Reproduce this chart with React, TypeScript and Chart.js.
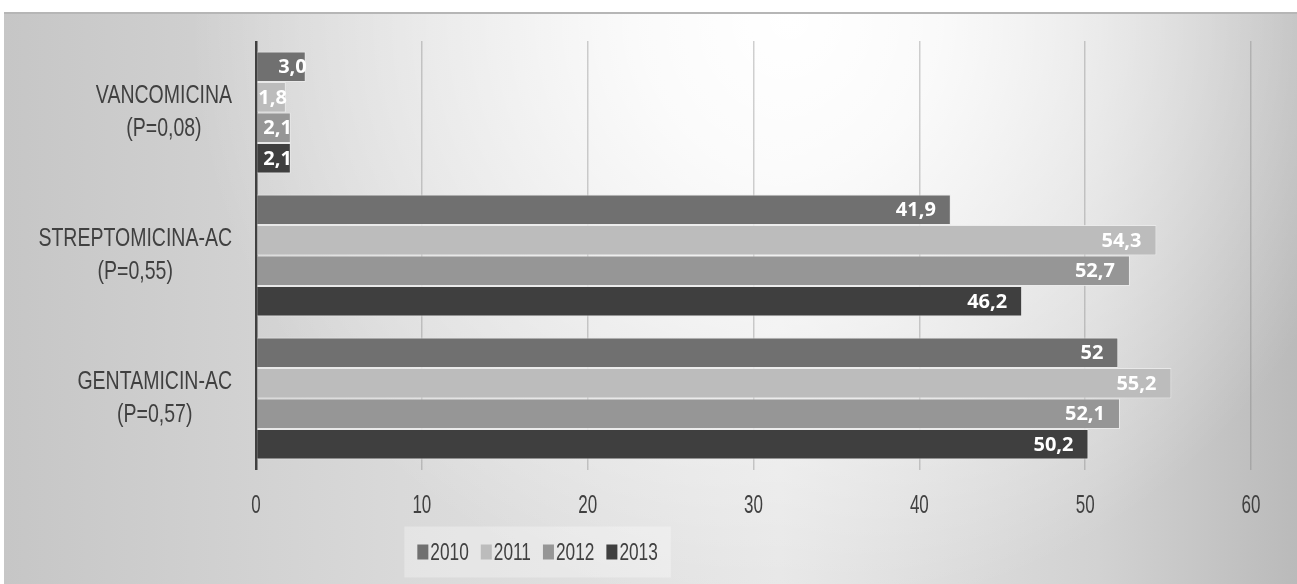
import React, { useEffect, useRef } from "react";
import { Chart, registerables } from "chart.js";

Chart.register(...registerables);

// ---- data ----
const categories: string[][] = [
  ["VANCOMICINA", "(P=0,08)"],
  ["STREPTOMICINA-AC", "(P=0,55)"],
  ["GENTAMICIN-AC", "(P=0,57)"],
];
const seriesNames = ["2010", "2011", "2012", "2013"];
const values2010 = [3.0, 41.9, 52];
const values2011 = [1.8, 54.3, 55.2];
const values2012 = [2.1, 52.7, 52.1];
const values2013 = [2.1, 46.2, 50.2];
const labels2010 = ["3,0", "41,9", "52"];
const labels2011 = ["1,8", "54,3", "55,2"];
const labels2012 = ["2,1", "52,7", "52,1"];
const labels2013 = ["2,1", "46,2", "50,2"];
const xTickMin = 0;
const xTickMax = 60;
const xTickStep = 10;

const seriesValues = [values2010, values2011, values2012, values2013];
const seriesLabels = [labels2010, labels2011, labels2012, labels2013];
const seriesColors = ["#707070", "#bcbcbc", "#969696", "#3f3f3f"];

const SANS = "'Liberation Sans', Arial, sans-serif";
const BOLD = "'Open Sans', 'Liberation Sans', sans-serif";

function drawNarrow(ctx: CanvasRenderingContext2D, text: string, x: number, y: number, sx: number) {
  ctx.save();
  ctx.translate(x, y);
  ctx.scale(sx, 1);
  ctx.fillText(text, 0, 0);
  ctx.restore();
}

const backgroundPlugin = {
  id: "bgPlugin",
  beforeDraw(chart: any) {
    const { ctx, width, height } = chart;
    ctx.save();
    ctx.fillStyle = "#ffffff";
    ctx.fillRect(0, 0, width, height);
    const g = ctx.createLinearGradient(4, 0, width, 0);
    g.addColorStop(0, "#c6c6c6");
    g.addColorStop(0.306, "#d9d9d9");
    g.addColorStop(0.6, "#e6e6e6");
    g.addColorStop(0.847, "#d2d2d2");
    g.addColorStop(1, "#bababa");
    ctx.fillStyle = g;
    ctx.fillRect(4, 12, width - 4, height - 12);
    const r = ctx.createRadialGradient(790, 20, 0, 790, 20, 600);
    r.addColorStop(0, "rgba(255,255,255,1)");
    r.addColorStop(0.25, "rgba(255,255,255,0.85)");
    r.addColorStop(1, "rgba(255,255,255,0)");
    ctx.fillStyle = r;
    ctx.fillRect(4, 12, width - 4, height - 12);
    ctx.fillStyle = "#b6b6b6";
    ctx.fillRect(4, 12, width - 4, 2);
    ctx.restore();
  },
};

const valueLabelPlugin = {
  id: "valueLabels",
  afterDatasetsDraw(chart: any) {
    const { ctx } = chart;
    ctx.save();
    ctx.font = `bold 20px ${BOLD}`;
    ctx.fillStyle = "#ffffff";
    ctx.textAlign = "right";
    ctx.textBaseline = "middle";
    chart.data.datasets.forEach((_ds: any, i: number) => {
      const meta = chart.getDatasetMeta(i);
      meta.data.forEach((bar: any, j: number) => {
        const { x, y, base } = bar.getProps(["x", "y", "base"], true);
        const text = seriesLabels[i][j];
        const w = ctx.measureText(text).width;
        const len = x - base;
        const right = len < w + 20 ? x + 1 : x - 15;
        ctx.fillText(text, right, y + 1);
      });
    });
    ctx.restore();
  },
};

const axisTextPlugin = {
  id: "axisText",
  afterDraw(chart: any) {
    const { ctx } = chart;
    const xScale = chart.scales.x;
    const yScale = chart.scales.y;
    ctx.save();
    ctx.fillStyle = "#404040";
    ctx.textBaseline = "middle";
    // x tick labels
    ctx.font = `25px ${SANS}`;
    ctx.textAlign = "center";
    for (let v = xTickMin; v <= xTickMax; v += xTickStep) {
      drawNarrow(ctx, String(v), xScale.getPixelForValue(v), chart.chartArea.bottom + 36, 0.68);
    }
    // category labels
    ctx.font = `26px ${SANS}`;
    const sx = 0.75;
    const rightEdge = chart.chartArea.left - 24;
    const lineGap = 33;
    categories.forEach((lines, i) => {
      const cy = yScale.getPixelForValue(i);
      const maxW = Math.max(...lines.map((l) => ctx.measureText(l).width)) * sx;
      const cx = rightEdge - maxW / 2;
      const startY = cy - ((lines.length - 1) * lineGap) / 2;
      lines.forEach((l, k) => drawNarrow(ctx, l, cx, startY + k * lineGap, sx));
    });
    ctx.restore();
  },
};

const legendPlugin = {
  id: "customLegend",
  afterDraw(chart: any) {
    const { ctx } = chart;
    ctx.save();
    ctx.font = `24px ${SANS}`;
    const sx = 0.72;
    const markerW = 11;
    const markerH = 15;
    const markerGap = 2;
    const itemGap = 12;
    const widths = seriesNames.map((n) => ctx.measureText(n).width * sx);
    const total =
      widths.reduce((a, b) => a + b, 0) +
      seriesNames.length * (markerW + markerGap) +
      (seriesNames.length - 1) * itemGap;
    const cx = chart.chartArea.left + chart.chartArea.width * 0.283;
    const cy = 552;
    const boxW = total + 26;
    const boxH = 51;
    ctx.fillStyle = "rgba(255,255,255,0.3)";
    ctx.fillRect(cx - boxW / 2, cy - boxH / 2, boxW, boxH);
    let x = cx - total / 2;
    ctx.textBaseline = "middle";
    ctx.textAlign = "left";
    seriesNames.forEach((n, i) => {
      ctx.fillStyle = seriesColors[i];
      ctx.fillRect(x, cy - markerH / 2, markerW, markerH);
      x += markerW + markerGap;
      ctx.fillStyle = "#404040";
      drawNarrow(ctx, n, x, cy + 1, sx);
      x += widths[i] + itemGap;
    });
    ctx.restore();
  },
};

export default function App() {
  const canvasRef = useRef<HTMLCanvasElement | null>(null);

  useEffect(() => {
    if (!canvasRef.current) return;
    const chart = new Chart(canvasRef.current, {
      type: "bar",
      data: {
        labels: categories.map((c) => c.join(" ")),
        datasets: seriesNames.map((name, i) => ({
          label: name,
          data: seriesValues[i],
          backgroundColor: seriesColors[i],
          borderColor: "rgba(235,235,235,0.85)",
          borderWidth: 1,
          categoryPercentage: 0.853,
          barPercentage: 1,
        })),
      },
      options: {
        indexAxis: "y",
        animation: false,
        responsive: false,
        maintainAspectRatio: false,
        layout: { padding: { left: 256, right: 46, top: 41, bottom: 114 } },
        plugins: {
          legend: { display: false },
          tooltip: { enabled: false },
        },
        scales: {
          x: {
            type: "linear",
            min: xTickMin,
            max: xTickMax,
            ticks: { stepSize: xTickStep, display: false },
            grid: {
              color: (c: any) => (c.tick && c.tick.value === 0 ? "#404040" : "rgba(120,120,120,0.35)"),
              lineWidth: (c: any) => (c.tick && c.tick.value === 0 ? 2.5 : 1.5),
              drawTicks: false,
              tickLength: 0,
            },
            border: { display: false },
            afterFit: (scale: any) => {
              scale.height = 0;
            },
          },
          y: {
            type: "category",
            display: false,
          },
        },
      },
      plugins: [backgroundPlugin, valueLabelPlugin, axisTextPlugin, legendPlugin],
    } as any);
    return () => chart.destroy();
  }, []);

  return (
    <div style={{ position: "fixed", left: 0, top: 0, width: 1297, height: 584 }}>
      <canvas ref={canvasRef} width={1297} height={584} style={{ display: "block" }} />
    </div>
  );
}
